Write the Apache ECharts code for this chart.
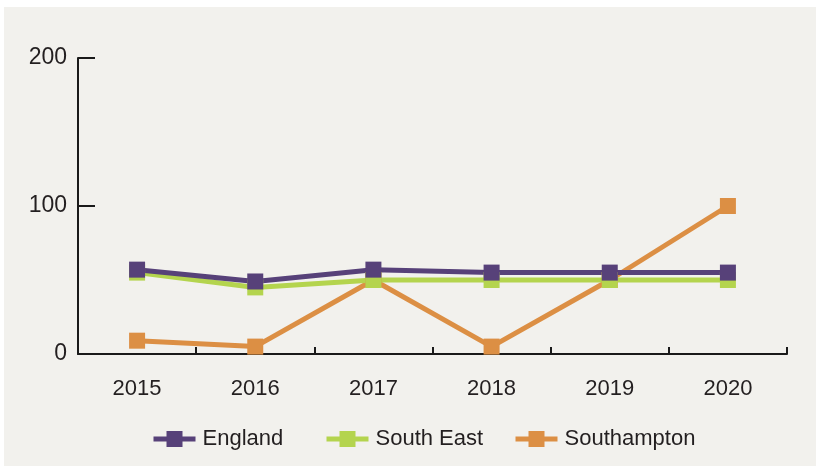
<!DOCTYPE html>
<html>
<head>
<meta charset="utf-8">
<script src="https://cdn.jsdelivr.net/npm/echarts@6/dist/echarts.min.js"></script>
<style>
  html, body { margin: 0; padding: 0; background: #ffffff; }
  #chart { width: 816px; height: 466px; }
</style>
</head>
<body>
<div id="chart"></div>
<script>
const years = ['2015', '2016', '2017', '2018', '2019', '2020'];
const england = [57, 49, 57, 55, 55, 55];
const southEast = [55, 45, 50, 50, 50, 50];
const southampton = [9, 5, 50, 5, 50, 100];
const yTicks = { min: 0, max: 200, interval: 100 };

const FONT = 'Liberation Sans';
const TEXT = '#231f20';
const AXIS = '#1a1a1a';
const colors = { England: '#574179', 'South East': '#b4d44e', Southampton: '#dc8f44' };

function mkSeries(name, data) {
  return {
    name: name, type: 'line', data: data,
    symbol: 'rect', symbolSize: 16,
    lineStyle: { width: 5, color: colors[name] },
    itemStyle: { color: colors[name] },
    emphasis: { disabled: true },
    animation: false
  };
}
function mkLegend(name, left) {
  return {
    data: [name], left: left, top: 428,
    itemWidth: 42, itemHeight: 20, itemGap: 0,
    lineStyle: { width: 5 },
    textStyle: { fontFamily: FONT, fontSize: 22, color: TEXT, padding: [0, 0, 0, 2] },
    selectedMode: false, padding: 0
  };
}

const chart = echarts.init(document.getElementById('chart'), null, { renderer: 'canvas' });
chart.setOption({
  animation: false,
  graphic: [{
    type: 'rect', z: -10, silent: true,
    shape: { x: 4, y: 7, width: 812, height: 459 },
    style: { fill: '#f2f1ed' }
  }],
  grid: { left: 78, right: 29, top: 58, bottom: 112, containLabel: false },
  legend: [mkLegend('England', 151), mkLegend('South East', 324), mkLegend('Southampton', 513)],
  xAxis: {
    type: 'category', data: years, boundaryGap: true,
    axisLine: { lineStyle: { color: AXIS, width: 2 } },
    axisTick: { show: true, inside: true, length: 7, lineStyle: { color: AXIS, width: 2 } },
    axisLabel: { fontFamily: FONT, fontSize: 22, color: TEXT, margin: 24 },
    splitLine: { show: false }
  },
  yAxis: {
    type: 'value', min: yTicks.min, max: yTicks.max, interval: yTicks.interval,
    axisLine: { show: true, lineStyle: { color: AXIS, width: 2 } },
    axisTick: { show: true, inside: true, length: 17, lineStyle: { color: AXIS, width: 2 } },
    axisLabel: { fontFamily: FONT, fontSize: 23, color: TEXT, margin: 11, padding: [5, 0, 0, 0] },
    splitLine: { show: false }
  },
  series: [
    mkSeries('Southampton', southampton),
    mkSeries('South East', southEast),
    mkSeries('England', england)
  ]
});
</script>
</body>
</html>
